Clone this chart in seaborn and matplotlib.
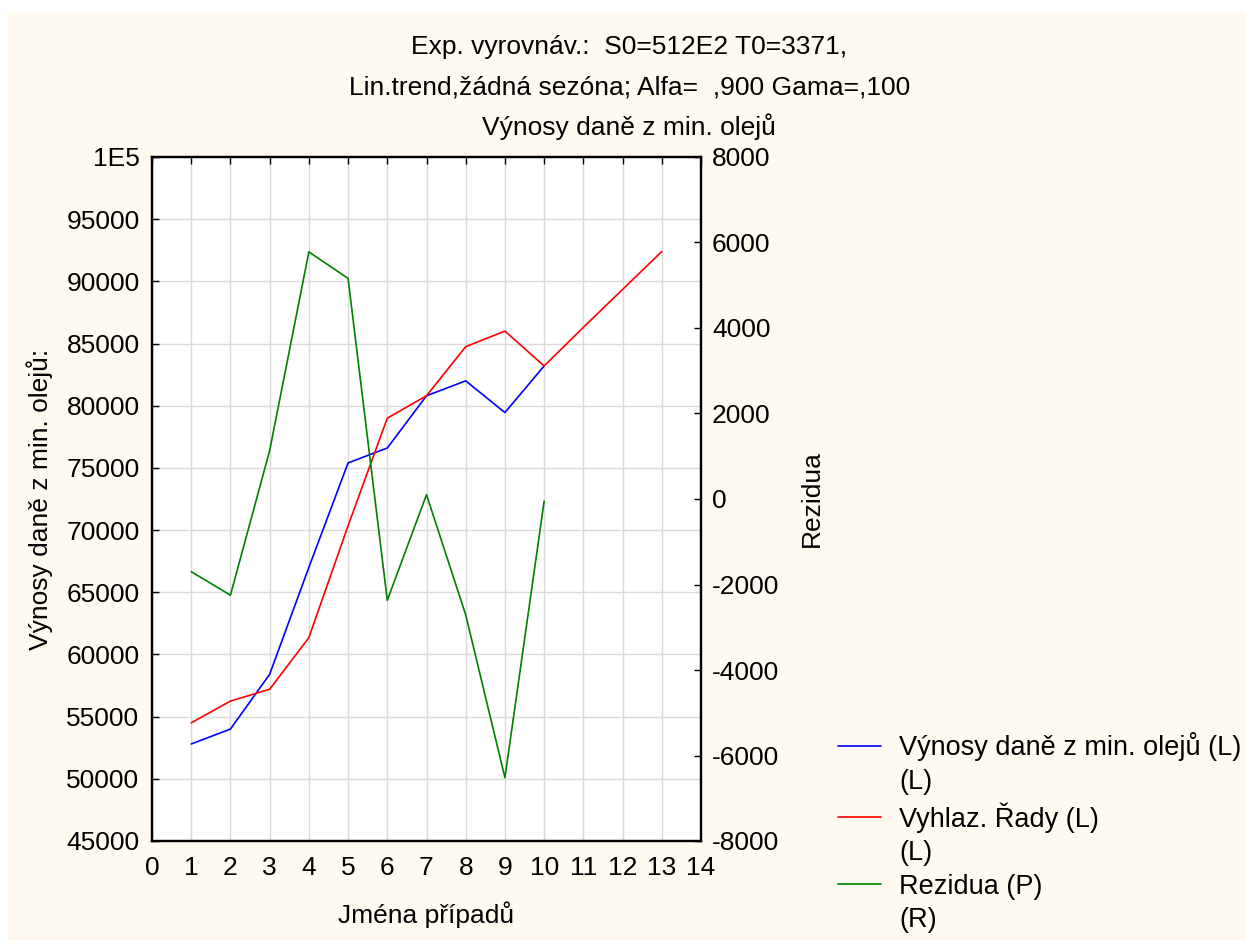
import matplotlib.pyplot as plt
import pandas as pd
import seaborn as sns
from matplotlib.lines import Line2D
from matplotlib.patches import Rectangle


CASES = list(range(1, 14))
VYNOSY = [52800, 54000, 58400, 67000, 75400, 76600, 80800, 82000, 79450, 83200]
VYHLAZ = [54500, 56250, 57200, 61350, 70350, 79000, 80800, 84750, 86000, 83200,
          86300, 89350, 92400]
REZIDUA = [-1700, -2250, 1130, 5780, 5160, -2370, 100, -2710, -6520, -50]

X_TICKS = list(range(0, 15))
LEFT_TICKS = [45000, 50000, 55000, 60000, 65000, 70000, 75000, 80000, 85000, 90000, 95000, 100000]
LEFT_TICK_LABELS = ["45000", "50000", "55000", "60000", "65000", "70000", "75000",
                    "80000", "85000", "90000", "95000", "1E5"]
RIGHT_TICKS = [-8000, -6000, -4000, -2000, 0, 2000, 4000, 6000, 8000]

TITLE_LINES = [
    "Exp. vyrovnáv.:  S0=512E2 T0=3371,",
    "Lin.trend,žádná sezóna; Alfa=  ,900 Gama=,100",
    "Výnosy daně z min. olejů",
]
LEGEND_LABELS = ["Výnosy daně z min. olejů (L)", "(L)", "Vyhlaz. Řady (L)", "(L)",
                 "Rezidua (P)", "(R)"]

W, H = 1246, 940
FS = 19

sns.set_style("white")
plt.rcParams["font.family"] = ["Liberation Sans", "DejaVu Sans"]
plt.rcParams["text.color"] = "black"
plt.rcParams["axes.labelcolor"] = "black"
plt.rcParams["xtick.color"] = "black"
plt.rcParams["ytick.color"] = "black"

obs = pd.DataFrame({"case": CASES[:len(VYNOSY)], "value": VYNOSY})
smooth = pd.DataFrame({"case": CASES[:len(VYHLAZ)], "value": VYHLAZ})
resid = pd.DataFrame({"case": CASES[:len(REZIDUA)], "value": REZIDUA})

fig = plt.figure(figsize=(W / 100, H / 100), dpi=100, facecolor="white")
fig.patches.append(Rectangle((8 / W, 0), 1 - 8 / W, 1 - 12 / H, transform=fig.transFigure,
                             facecolor="#FFFAF0", edgecolor="none", zorder=-10))

ax = fig.add_axes([152 / W, 1 - 841 / H, (701 - 152) / W, (841 - 157) / H])
ax.set_facecolor("white")
ax2 = ax.twinx()

sns.lineplot(data=obs, x="case", y="value", ax=ax, color="#0000FF", linewidth=1.2,
             legend=False)
sns.lineplot(data=smooth, x="case", y="value", ax=ax, color="#FF0000", linewidth=1.2,
             legend=False)
sns.lineplot(data=resid, x="case", y="value", ax=ax2, color="#008000", linewidth=1.2,
             legend=False)

ax.set_xlim(0, 14)
ax.set_ylim(45000, 100000)
ax2.set_ylim(-8000, 8000)
ax.set_xticks(X_TICKS)
ax.set_yticks(LEFT_TICKS, labels=LEFT_TICK_LABELS)
ax2.set_yticks(RIGHT_TICKS, labels=[str(t) for t in RIGHT_TICKS])

ax.grid(True, color="#DADADA", linewidth=1.0)
ax2.grid(False)
for a in (ax, ax2):
    for s in a.spines.values():
        s.set_color("black")
        s.set_linewidth(1.6)
ax.tick_params(axis="x", direction="in", length=5, width=1.0, top=True, labelsize=FS, pad=11)
ax.tick_params(axis="y", direction="in", length=5, width=1.0, labelsize=FS, pad=9)
ax2.tick_params(axis="y", direction="in", length=5, width=1.0, labelsize=FS, pad=8)

ax.set_xlabel("Jména případů", fontsize=FS)
ax.set_ylabel("Výnosy daně z min. olejů:", fontsize=FS)
ax2.set_ylabel("Rezidua", fontsize=FS)
ax.xaxis.set_label_coords(0.5, -0.088)
ax.yaxis.set_label_coords(-0.18, 0.5)
ax2.yaxis.set_label_coords(1.18, 0.5)

for i, line in enumerate(TITLE_LINES):
    fig.text(0.505, 1 - (47 + 40 * i) / H, line, ha="center", va="center", fontsize=FS)

lines = ax.get_lines()[:2] + ax2.get_lines()[:1]
blank = Line2D([], [], linestyle="none")
handles = [lines[0], blank, lines[1], blank, lines[2], blank]
fig.legend(handles, LEGEND_LABELS, loc="upper left", bbox_to_anchor=(838 / W, 1 - 732 / H),
           frameon=False, fontsize=19.5, handlelength=1.6, handletextpad=0.65,
           labelspacing=0.28, borderpad=0, borderaxespad=0)

fig.savefig("out.png", dpi=100, facecolor=fig.get_facecolor())
